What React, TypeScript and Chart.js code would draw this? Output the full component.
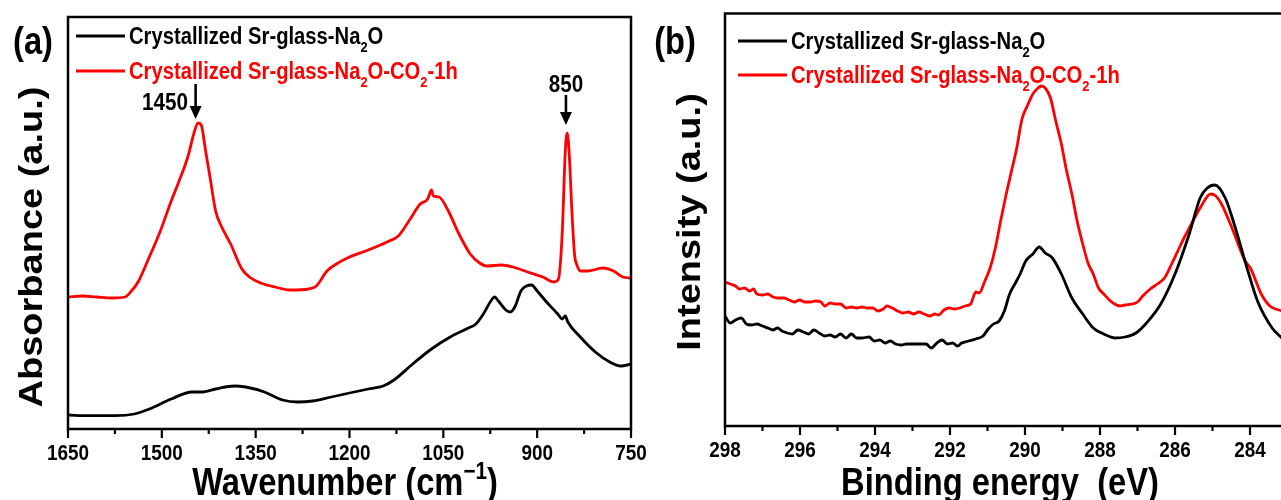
import React, { useEffect, useRef } from 'react';
import { Chart, registerables } from 'chart.js';

Chart.register(...registerables);

const FONT = '"Liberation Sans", Arial, Helvetica, sans-serif';
const RED = '#ff0000';
const BLACK = '#000000';
const SQUEEZE = 0.86; // the original figure's text is horizontally condensed

// ---------- Panel (a): FTIR ----------
const ftirTicks = [1650, 1500, 1350, 1200, 1050, 900, 750];
const ftirBlackX = [1650, 1616, 1574, 1544, 1520, 1485, 1452, 1437, 1414, 1384, 1366, 1336, 1307, 1283, 1259, 1229, 1200, 1170, 1146, 1129, 1099, 1069, 1039, 1010, 998, 986, 974, 968, 962, 950, 943, 935, 926, 917, 909, 900, 885, 867, 860, 855, 851, 831, 807, 784, 766, 750];
const ftirBlackY = [14, 13.3, 13.3, 15, 20, 30, 37, 37, 40, 43, 42, 37, 29, 27, 28, 32, 36, 40, 43, 49, 65, 80, 92, 101, 105, 115, 128, 132, 128, 119, 117, 123, 138, 143, 144, 138, 127, 115, 110, 113, 107, 92, 77, 67, 63, 65];
const ftirRedX = [1650, 1627, 1604, 1580, 1559, 1550, 1538, 1520, 1503, 1485, 1473, 1458, 1449, 1442, 1437, 1430, 1423, 1414, 1405, 1390, 1372, 1360, 1342, 1319, 1295, 1265, 1253, 1236, 1221, 1200, 1170, 1140, 1122, 1105, 1087, 1075, 1069, 1066, 1057, 1042, 1025, 1007, 992, 980, 957, 939, 915, 891, 873, 866, 860, 855, 852, 849, 844, 840, 837, 831, 819, 795, 778, 763, 750];
const ftirRedY = [132, 133, 132, 131, 132, 137, 147, 172, 197, 228, 247, 273, 295, 306, 304, 278, 252, 218, 203, 185, 160, 152, 146, 142, 139, 140, 143, 158, 165, 172, 179, 187, 193, 208, 225, 230, 239, 233, 232, 218, 195, 175, 166, 163, 164, 162, 157, 152, 147, 150, 195, 278, 296, 278, 212, 173, 165, 158, 158, 161, 158, 152, 151];
const ftirArrowLabels = ['1450', '850'];
const ftirArrowAt = [1446, 854];

// ---------- Panel (b): XPS C 1s ----------
const xpsTicks = [298, 296, 294, 292, 290, 288, 286, 284];
const xpsBlackX = [298.00, 297.86, 297.72, 297.57, 297.43, 297.29, 297.15, 297.00, 296.86, 296.72, 296.60, 296.48, 296.34, 296.20, 296.06, 295.91, 295.77, 295.63, 295.49, 295.34, 295.20, 295.06, 294.92, 294.77, 294.63, 294.49, 294.35, 294.16, 294.02, 293.87, 293.73, 293.59, 293.45, 293.30, 293.16, 293.02, 292.83, 292.64, 292.50, 292.35, 292.21, 292.07, 291.93, 291.80, 291.69, 291.50, 291.31, 291.12, 290.98, 290.84, 290.69, 290.55, 290.41, 290.27, 290.13, 289.98, 289.79, 289.62, 289.46, 289.27, 289.03, 288.75, 288.46, 288.18, 287.90, 287.61, 287.33, 287.04, 286.76, 286.38, 286.00, 285.62, 285.33, 285.14, 284.94, 284.66, 284.39, 284.08, 283.80, 283.41, 283.15];
const xpsBlackY = [110, 103, 106, 108, 102, 101, 102, 100, 98, 96, 98, 95, 93, 92, 96, 94, 92, 96, 93, 90, 91, 89, 92, 88, 92, 88, 88, 89, 85, 86, 83, 85, 82, 81, 82, 82, 82, 82, 78, 83, 86, 82, 83, 80, 83, 85, 87, 90, 97, 102, 105, 115, 132, 142, 152, 165, 172, 179, 173, 168, 152, 128, 112, 98, 92, 88, 89, 93, 103, 122, 152, 192, 228, 238, 241, 228, 198, 158, 125, 98, 88];
const xpsRedX = [298.00, 297.86, 297.72, 297.62, 297.48, 297.34, 297.24, 297.15, 297.00, 296.86, 296.72, 296.58, 296.43, 296.29, 296.15, 296.01, 295.87, 295.72, 295.58, 295.44, 295.34, 295.20, 295.06, 294.92, 294.77, 294.63, 294.49, 294.35, 294.20, 294.06, 293.92, 293.78, 293.68, 293.54, 293.40, 293.26, 293.11, 292.97, 292.83, 292.69, 292.54, 292.40, 292.31, 292.16, 292.02, 291.88, 291.74, 291.60, 291.45, 291.31, 291.22, 291.07, 290.93, 290.79, 290.65, 290.50, 290.36, 290.22, 290.08, 289.94, 289.79, 289.65, 289.56, 289.46, 289.32, 289.18, 289.03, 288.89, 288.75, 288.61, 288.46, 288.32, 288.18, 288.04, 287.90, 287.75, 287.61, 287.47, 287.33, 287.14, 287.00, 286.86, 286.66, 286.47, 286.28, 286.09, 285.90, 285.76, 285.62, 285.33, 285.05, 284.91, 284.76, 284.48, 284.13, 283.99, 283.70, 283.47, 283.15];
const xpsRedY = [144, 142, 140, 137, 138, 135, 137, 132, 131, 132, 129, 128, 128, 126, 124, 126, 124, 124, 125, 124, 120, 123, 122, 122, 118, 119, 118, 119, 118, 118, 115, 117, 120, 118, 115, 113, 114, 112, 114, 112, 110, 112, 111, 116, 118, 117, 118, 120, 122, 134, 133, 145, 158, 178, 205, 232, 255, 278, 307, 320, 332, 338, 340, 338, 328, 305, 282, 255, 232, 205, 182, 163, 152, 138, 132, 126, 122, 120, 121, 122, 124, 130, 137, 142, 148, 162, 177, 188, 198, 218, 232, 230, 222, 198, 165, 158, 132, 120, 115];

// ---------- Text ----------
type Seg = { t: string; s?: 'sub' | 'sup' };
const legendBlack: Seg[] = [{ t: 'Crystallized Sr-glass-Na' }, { t: '2', s: 'sub' }, { t: 'O' }];
const legendRed: Seg[] = [{ t: 'Crystallized Sr-glass-Na' }, { t: '2', s: 'sub' }, { t: 'O-CO' }, { t: '2', s: 'sub' }, { t: '-1h' }];
const titleXA: Seg[] = [{ t: 'Wavenumber (cm' }, { t: '\u22121', s: 'sup' }, { t: ')' }];
const titleXB: Seg[] = [{ t: 'Binding energy  (eV)' }];
const titleYA: Seg[] = [{ t: 'Absorbance (a.u.)' }];
const titleYB: Seg[] = [{ t: 'Intensity (a.u.)' }];

// Draws text segments centred vertically on y; sx = horizontal (along-text) squeeze.
function drawRich(ctx: CanvasRenderingContext2D, segs: Seg[], x: number, y: number, size: number, color: string, align: 'left' | 'center' | 'right', sx: number) {
  const small = Math.round(size * 0.62);
  const fontOf = (sz: number) => `bold ${sz}px ${FONT}`;
  let total = 0;
  const ws = segs.map((sg) => {
    ctx.font = fontOf(sg.s ? small : size);
    const w = ctx.measureText(sg.t).width;
    total += w;
    return w;
  });
  ctx.save();
  ctx.translate(x, y);
  ctx.scale(sx, 1);
  let cx = align === 'center' ? -total / 2 : align === 'right' ? -total : 0;
  const base = size * 0.36;
  ctx.fillStyle = color;
  ctx.textBaseline = 'alphabetic';
  ctx.textAlign = 'left';
  segs.forEach((sg, i) => {
    ctx.font = fontOf(sg.s ? small : size);
    const dy = sg.s === 'sub' ? size * 0.3 : sg.s === 'sup' ? -size * 0.4 : 0;
    ctx.fillText(sg.t, cx, base + dy);
    cx += ws[i];
  });
  ctx.restore();
}

function drawArrow(ctx: CanvasRenderingContext2D, x: number, y0: number, y1: number) {
  ctx.strokeStyle = BLACK;
  ctx.fillStyle = BLACK;
  ctx.lineWidth = 2.6;
  ctx.beginPath();
  ctx.moveTo(x, y0);
  ctx.lineTo(x, y1 - 10);
  ctx.stroke();
  ctx.beginPath();
  ctx.moveTo(x - 6, y1 - 13);
  ctx.lineTo(x + 6, y1 - 13);
  ctx.lineTo(x, y1);
  ctx.closePath();
  ctx.fill();
}

interface PanelCfg {
  min: number;
  max: number;
  minorStep: number;
  majors: number[];
  tickLabelY: number;
  label: string;
  labelPos: [number, number];
  yTitle: Seg[];
  yTitlePos: [number, number];
  xTitle: Seg[];
  xTitlePos: [number, number];
  legendLine: [number, number];
  legendTextX: number;
  legendRows: [number, number];
  arrows?: { value: number; text: string; y0: number; y1: number; tx: number | null; ty: number; align: 'center' | 'right' }[];
}

function makePlugin(cfg: PanelCfg) {
  return {
    id: 'panelDecor',
    afterDraw(chart: any) {
      const ctx: CanvasRenderingContext2D = chart.ctx;
      const ca = chart.chartArea;
      const xs = chart.scales.x;
      ctx.save();
      // frame
      ctx.strokeStyle = BLACK;
      ctx.lineWidth = 2.5;
      ctx.strokeRect(ca.left, ca.top, ca.right - ca.left, ca.bottom - ca.top);
      // ticks (outward, major + minor)
      ctx.lineWidth = 2.2;
      for (let v = cfg.min; v <= cfg.max + 1e-9; v += cfg.minorStep) {
        const major = cfg.majors.some((m) => Math.abs(m - v) < 1e-6);
        const px = xs.getPixelForValue(v);
        ctx.beginPath();
        ctx.moveTo(px, ca.bottom);
        ctx.lineTo(px, ca.bottom + (major ? 9 : 5));
        ctx.stroke();
      }
      // tick labels
      cfg.majors.forEach((v) => {
        drawRich(ctx, [{ t: String(v) }], xs.getPixelForValue(v), cfg.tickLabelY, 22, BLACK, 'center', SQUEEZE);
      });
      // panel label
      drawRich(ctx, [{ t: cfg.label }], cfg.labelPos[0], cfg.labelPos[1], 38, BLACK, 'center', SQUEEZE);
      // axis titles
      drawRich(ctx, cfg.xTitle, cfg.xTitlePos[0], cfg.xTitlePos[1], 38, BLACK, 'center', SQUEEZE);
      ctx.save();
      ctx.translate(cfg.yTitlePos[0], cfg.yTitlePos[1]);
      ctx.scale(SQUEEZE, 1);
      ctx.rotate(-Math.PI / 2);
      drawRich(ctx, cfg.yTitle, 0, 0, 38, BLACK, 'center', 1);
      ctx.restore();
      // legend
      const rows: [Seg[], string][] = [
        [legendBlack, BLACK],
        [legendRed, RED],
      ];
      rows.forEach(([segs, color], i) => {
        const y = cfg.legendRows[i];
        ctx.strokeStyle = color;
        ctx.lineWidth = 3;
        ctx.beginPath();
        ctx.moveTo(cfg.legendLine[0], y);
        ctx.lineTo(cfg.legendLine[1], y);
        ctx.stroke();
        drawRich(ctx, segs, cfg.legendTextX, y, 23.5, color, 'left', SQUEEZE);
      });
      // arrows
      (cfg.arrows || []).forEach((a) => {
        const px = xs.getPixelForValue(a.value);
        drawArrow(ctx, px, a.y0, a.y1);
        const tx = a.tx === null ? px : a.tx;
        drawRich(ctx, [{ t: a.text }], tx, a.ty, 24, BLACK, a.align, SQUEEZE);
      });
      ctx.restore();
    },
  };
}

function buildChart(canvas: HTMLCanvasElement, opts: {
  series: { x: number[]; y: number[]; color: string }[];
  min: number; max: number; yMax: number; ticks: number[];
  padding: { left: number; right: number; top: number; bottom: number };
  axisHeight: number; cfg: PanelCfg;
}) {
  return new Chart(canvas, {
    type: 'line',
    data: {
      datasets: opts.series.map((s) => ({
        data: s.x.map((x, i) => ({ x, y: s.y[i] })),
        borderColor: s.color,
        backgroundColor: s.color,
        borderWidth: 2.8,
        pointRadius: 0,
        cubicInterpolationMode: 'monotone' as const,
        fill: false,
      })),
    },
    options: {
      responsive: false,
      animation: false,
      devicePixelRatio: 1,
      layout: { padding: opts.padding },
      plugins: { legend: { display: false }, tooltip: { enabled: false } },
      scales: {
        x: {
          type: 'linear',
          reverse: true,
          min: opts.min,
          max: opts.max,
          grid: { display: false, drawTicks: false },
          border: { display: false },
          afterBuildTicks: (scale: any) => {
            scale.ticks = opts.ticks.map((v) => ({ value: v }));
          },
          afterFit: (scale: any) => {
            scale.height = opts.axisHeight;
          },
          ticks: { display: false },
        },
        y: { display: false, min: 0, max: opts.yMax },
      },
    },
    plugins: [makePlugin(opts.cfg)],
  } as any);
}

export default function App() {
  const refA = useRef<HTMLCanvasElement>(null);
  const refB = useRef<HTMLCanvasElement>(null);

  useEffect(() => {
    const chartA = buildChart(refA.current!, {
      series: [
        { x: ftirBlackX, y: ftirBlackY, color: BLACK },
        { x: ftirRedX, y: ftirRedY, color: RED },
      ],
      min: 750,
      max: 1650,
      yMax: 412,
      ticks: ftirTicks,
      padding: { left: 68, right: 69, top: 17, bottom: 0 },
      axisHeight: 71,
      cfg: {
        min: 750,
        max: 1650,
        minorStep: 75,
        majors: ftirTicks,
        tickLabelY: 452,
        label: '(a)',
        labelPos: [33, 40],
        yTitle: titleYA,
        yTitlePos: [30, 247],
        xTitle: titleXA,
        xTitlePos: [345, 481],
        legendLine: [76, 125],
        legendTextX: 129,
        legendRows: [36, 71],
        arrows: [
          { value: ftirArrowAt[0], text: ftirArrowLabels[0], y0: 84, y1: 119, tx: 188, ty: 101, align: 'right' },
          { value: ftirArrowAt[1], text: ftirArrowLabels[1], y0: 95, y1: 125, tx: null, ty: 83, align: 'center' },
        ],
      },
    });
    const chartB = buildChart(refB.current!, {
      series: [
        { x: xpsBlackX, y: xpsBlackY, color: BLACK },
        { x: xpsRedX, y: xpsRedY, color: RED },
      ],
      min: 283,
      max: 298,
      yMax: 412.5,
      ticks: xpsTicks,
      padding: { left: 85, right: 72.5, top: 13.5, bottom: 0 },
      axisHeight: 74,
      cfg: {
        min: 283,
        max: 298,
        minorStep: 1,
        majors: xpsTicks,
        tickLabelY: 449,
        label: '(b)',
        labelPos: [35, 40],
        yTitle: titleYB,
        yTitlePos: [48, 222],
        xTitle: titleXB,
        xTitlePos: [360, 481],
        legendLine: [98, 147],
        legendTextX: 151,
        legendRows: [41, 75],
      },
    });
    return () => {
      chartA.destroy();
      chartB.destroy();
    };
  }, []);

  return (
    <div style={{ position: 'fixed', left: 0, top: 0, width: 1281, height: 500, overflow: 'hidden', background: '#fff' }}>
      <canvas ref={refA} width={700} height={500} style={{ position: 'absolute', left: 0, top: 0, width: 700, height: 500 }} />
      <canvas ref={refB} width={720} height={500} style={{ position: 'absolute', left: 640, top: 0, width: 720, height: 500 }} />
    </div>
  );
}
